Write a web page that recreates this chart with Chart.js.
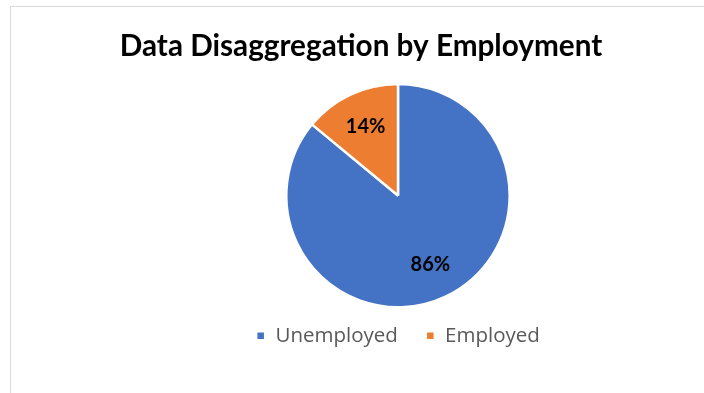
<!DOCTYPE html>
<html>
<head>
<meta charset="utf-8">
<title>Data Disaggregation by Employment</title>
<script src="https://cdn.jsdelivr.net/npm/chart.js@4"></script>
<style>
  html, body { margin: 0; padding: 0; background: #fff; overflow: hidden; }
  .frame {
    position: absolute;
    left: 10px; top: 6px;
    width: 780px; height: 400px;
    border: 1.5px solid #d9d9d9;
    box-sizing: border-box;
  }
  .frame canvas { position: absolute; left: 0; top: 0; }
</style>
</head>
<body>
<div class="frame">
  <canvas id="empPie" width="778" height="386"></canvas>
</div>
<script>
// Employment breakdown
const LABELS = ['Unemployed', 'Employed'];
const VALUES = [86, 14];
const COLORS = ['#4472C4', '#ED7D31'];

// ── Percent labels inside each slice ──────────────────────────────────────
const sliceLabels = {
  id: 'sliceLabels',
  afterDatasetsDraw(chart) {
    const { ctx } = chart;
    const meta = chart.getDatasetMeta(0);
    const total = VALUES.reduce((a, b) => a + b, 0);
    ctx.save();
    ctx.font = 'bold 20px Lato, "DejaVu Sans", sans-serif';
    ctx.fillStyle = '#000';
    ctx.textAlign = 'center';
    ctx.textBaseline = 'middle';
    meta.data.forEach((arc, i) => {
      const { x, y, startAngle, endAngle, outerRadius } = arc.getProps(['x', 'y', 'startAngle', 'endAngle', 'outerRadius'], true);
      const mid = (startAngle + endAngle) / 2;
      const r = outerRadius * 0.68;
      const pct = Math.round(VALUES[i] / total * 100) + '%';
      ctx.fillText(pct, x + Math.cos(mid) * r, y + Math.sin(mid) * r);
    });
    ctx.restore();
  }
};

// ── Title sits a little left of the pie, legend tucked up under it ────────
const blockShift = {
  id: 'blockShift',
  afterLayout(chart) {
    if (chart.titleBlock) {
      chart.titleBlock.left -= 37;
      chart.titleBlock.right -= 37;
    }
    if (chart.legend) {
      chart.legend.top -= 11;
      chart.legend.bottom -= 11;
    }
  }
};

new Chart(document.getElementById('empPie'), {
  type: 'pie',
  data: {
    labels: LABELS,
    datasets: [{
      data: VALUES,
      backgroundColor: COLORS,
      borderColor: '#fff',
      borderWidth: 2.5
    }]
  },
  options: {
    responsive: false,
    animation: false,
    layout: { padding: { bottom: 26, right: 4 } },
    plugins: {
      title: {
        display: true,
        text: 'Data Disaggregation by Employment',
        color: '#000',
        font: { family: 'Lato', size: 29.7, weight: 'bold', lineHeight: 1.2 },
        padding: { top: 22, bottom: 18 }
      },
      legend: {
        position: 'bottom',
        labels: {
          boxWidth: 9,
          boxHeight: 9,
          color: '#595959',
          padding: 28,
          font: { family: '"Open Sans"', size: 20.5 }
        }
      },
      tooltip: { enabled: false }
    }
  },
  plugins: [sliceLabels, blockShift]
});
</script>
</body>
</html>
